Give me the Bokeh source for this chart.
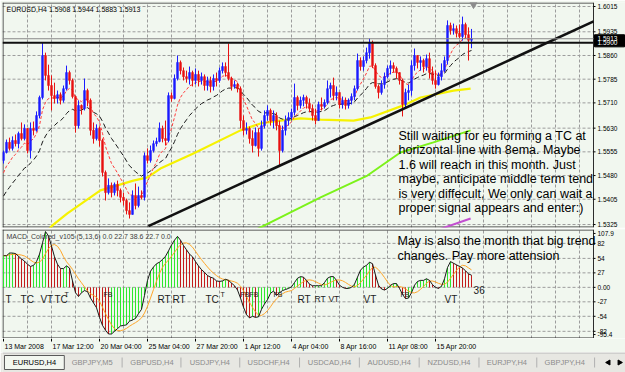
from math import pi
from bokeh.plotting import figure
from bokeh.layouts import column
from bokeh.models import Range1d
from bokeh.core.properties import value
from bokeh.embed import file_html
from bokeh.resources import INLINE

# ---------------- data ----------------
symbol = "EURUSD,H4"
first_open = 1.5528
close = [
    1.5553, 1.5585, 1.5566, 1.5591, 1.5581, 1.5613, 1.5597, 1.5629, 1.5559, 1.5629,
    1.5623, 1.5670, 1.5727, 1.5860, 1.5797, 1.5765, 1.5733, 1.5724, 1.5736, 1.5718,
    1.5755, 1.5806, 1.5781, 1.5730, 1.5638, 1.5702, 1.5692, 1.5749, 1.5718, 1.5623,
    1.5597, 1.5629, 1.5591, 1.5490, 1.5426, 1.5449, 1.5426, 1.5452, 1.5433, 1.5411,
    1.5401, 1.5369, 1.5357, 1.5417, 1.5385, 1.5417, 1.5411, 1.5543, 1.5528, 1.5559,
    1.5581, 1.5588, 1.5629, 1.5597, 1.5591, 1.5733, 1.5724, 1.5787, 1.5838, 1.5812,
    1.5793, 1.5787, 1.5806, 1.5781, 1.5800, 1.5781, 1.5793, 1.5765, 1.5781, 1.5762,
    1.5787, 1.5781, 1.5812, 1.5825, 1.5806, 1.5787, 1.5762, 1.5768, 1.5755, 1.5654,
    1.5623, 1.5629, 1.5597, 1.5575, 1.5616, 1.5566, 1.5638, 1.5670, 1.5686, 1.5654,
    1.5670, 1.5638, 1.5559, 1.5623, 1.5654, 1.5664, 1.5680, 1.5727, 1.5702, 1.5718,
    1.5727, 1.5708, 1.5692, 1.5670, 1.5654, 1.5705, 1.5699, 1.5711, 1.5755, 1.5765,
    1.5733, 1.5743, 1.5705, 1.5718, 1.5702, 1.5718, 1.5730, 1.5755, 1.5844, 1.5825,
    1.5844, 1.5869, 1.5901, 1.5828, 1.5762, 1.5743, 1.5768, 1.5793, 1.5819, 1.5828,
    1.5819, 1.5806, 1.5781, 1.5705, 1.5743, 1.5749, 1.5828, 1.5860, 1.5838, 1.5844,
    1.5825, 1.5850, 1.5806, 1.5781, 1.5768, 1.5793, 1.5812, 1.5844, 1.5955, 1.5939,
    1.5945, 1.5930, 1.5920, 1.5958, 1.5926, 1.5908, 1.5913]
high = [
    1.5559, 1.5594, 1.5600, 1.5604, 1.5610, 1.5619, 1.5648, 1.5642, 1.5619, 1.5648,
    1.5651, 1.5683, 1.5733, 1.5901, 1.5869, 1.5831, 1.5797, 1.5774, 1.5749, 1.5743,
    1.5765, 1.5828, 1.5812, 1.5787, 1.5733, 1.5718, 1.5705, 1.5787, 1.5755, 1.5724,
    1.5648, 1.5642, 1.5635, 1.5597, 1.5496, 1.5471, 1.5458, 1.5458, 1.5464, 1.5439,
    1.5426, 1.5407, 1.5395, 1.5433, 1.5455, 1.5445, 1.5433, 1.5553, 1.5566, 1.5575,
    1.5591, 1.5600, 1.5648, 1.5638, 1.5654, 1.5743, 1.5743, 1.5800, 1.5860, 1.5844,
    1.5822, 1.5812, 1.5825, 1.5812, 1.5819, 1.5812, 1.5806, 1.5800, 1.5793, 1.5793,
    1.5800, 1.5806, 1.5822, 1.5838, 1.5838, 1.5898, 1.5793, 1.5781, 1.5774, 1.5762,
    1.5670, 1.5648, 1.5635, 1.5623, 1.5632, 1.5629, 1.5654, 1.5686, 1.5702, 1.5692,
    1.5686, 1.5680, 1.5654, 1.5638, 1.5670, 1.5680, 1.5692, 1.5771, 1.5733, 1.5730,
    1.5736, 1.5733, 1.5724, 1.5705, 1.5692, 1.5714, 1.5727, 1.5721, 1.5781, 1.5774,
    1.5790, 1.5762, 1.5743, 1.5730, 1.5727, 1.5724, 1.5740, 1.5765, 1.5866, 1.5854,
    1.5857, 1.5885, 1.5914, 1.5907, 1.5835, 1.5768, 1.5781, 1.5806, 1.5828, 1.5844,
    1.5838, 1.5825, 1.5806, 1.5787, 1.5755, 1.5768, 1.5844, 1.5882, 1.5860, 1.5857,
    1.5850, 1.5863, 1.5869, 1.5825, 1.5812, 1.5806, 1.5835, 1.5857, 1.5971, 1.5964,
    1.5961, 1.5955, 1.5958, 1.5983, 1.5964, 1.5949, 1.5944]
low = [
    1.5518, 1.5550, 1.5559, 1.5559, 1.5572, 1.5566, 1.5591, 1.5591, 1.5550, 1.5534,
    1.5607, 1.5619, 1.5661, 1.5721, 1.5781, 1.5749, 1.5686, 1.5708, 1.5708, 1.5705,
    1.5711, 1.5749, 1.5768, 1.5724, 1.5616, 1.5629, 1.5673, 1.5686, 1.5699, 1.5607,
    1.5581, 1.5591, 1.5572, 1.5477, 1.5401, 1.5420, 1.5411, 1.5417, 1.5414, 1.5395,
    1.5385, 1.5357, 1.5344, 1.5357, 1.5373, 1.5379, 1.5404, 1.5401, 1.5518, 1.5521,
    1.5553, 1.5572, 1.5585, 1.5585, 1.5575, 1.5585, 1.5714, 1.5721, 1.5781, 1.5800,
    1.5781, 1.5774, 1.5768, 1.5762, 1.5768, 1.5762, 1.5768, 1.5749, 1.5749, 1.5743,
    1.5749, 1.5762, 1.5774, 1.5803, 1.5793, 1.5781, 1.5749, 1.5755, 1.5743, 1.5629,
    1.5607, 1.5610, 1.5581, 1.5553, 1.5572, 1.5540, 1.5559, 1.5629, 1.5654, 1.5638,
    1.5629, 1.5623, 1.5512, 1.5553, 1.5607, 1.5638, 1.5654, 1.5670, 1.5686, 1.5692,
    1.5699, 1.5692, 1.5680, 1.5654, 1.5642, 1.5654, 1.5686, 1.5692, 1.5705, 1.5727,
    1.5718, 1.5718, 1.5692, 1.5692, 1.5689, 1.5692, 1.5705, 1.5718, 1.5749, 1.5812,
    1.5812, 1.5835, 1.5850, 1.5820, 1.5755, 1.5724, 1.5736, 1.5755, 1.5787, 1.5800,
    1.5806, 1.5787, 1.5768, 1.5667, 1.5692, 1.5718, 1.5733, 1.5812, 1.5819, 1.5812,
    1.5806, 1.5812, 1.5787, 1.5768, 1.5755, 1.5765, 1.5781, 1.5806, 1.5831, 1.5926,
    1.5926, 1.5917, 1.5914, 1.5907, 1.5914, 1.5844, 1.5883]

ema_fast_period, ema_fast_seed = 8, 1.5470
ema_slow_period, ema_slow_seed = 21, 1.5401

macd = [
    59, 59, 64, 64, 63, 58, 53, 49, 43, 39,
    41, 48, 62, 83, 104, 96, 77, 57, 43, 35,
    35, 40, 36, 12, -10, -17, -10, -6, -8, -20,
    -29, -38, -56, -71, -80, -87, -87, -82, -77, -72,
    -71, -70, -63, -61, -58, -49, -41, -15, 13, 30,
    38, 44, 47, 52, 58, 68, 79, 88, 95, 88,
    78, 70, 62, 57, 48, 40, 33, 28, 22, 19,
    17, 12, 11, 12, 15, 13, 8, 3, -5, -20,
    -37, -51, -57, -54, -56, -55, -41, -31, -23, -11,
    -7, -15, -10, -6, -4, -2, 1, 9, 17, 20,
    19, 13, 6, 3, 3, 3, 3, 9, 17, 20,
    20, 13, 4, 0, -2, -2, 0, 6, 19, 32,
    38, 41, 47, 44, 23, 4, -3, -5, -2, 4,
    7, 7, -2, -13, -21, -20, -10, 4, 11, 13,
    13, 16, 13, 5, 0, -2, 2, 16, 37, 48,
    45, 42, 39, 36, 31, 25, 22.7]
signal_period = 6
macd_title = "MACD_Colored_v105 (5,13,6) 0.0 22.7 38.6 22.7 0.0"

time_tick_bars = [0, 16, 32, 48, 64, 80, 96, 112, 128, 144]
time_tick_labels = ["13 Mar 2008", "17 Mar 12:00", "20 Mar 04:00", "25 Mar 04:00",
                    "27 Mar 20:00", "1 Apr 12:00", "4 Apr 04:00", "8 Apr 16:00",
                    "11 Apr 08:00", "15 Apr 20:00"]
price_ticks = [1.6015, 1.5935, 1.5860, 1.5785, 1.5710, 1.5630, 1.5555, 1.5480, 1.5405, 1.5325]
macd_ticks = [100.5, 82, 54, 27, 0, -27, -54, -82, -88]
macd_tick_labels = ["107.9", "82", "54", "27", "0.00", "-27", "-54", "-82", "-95.4"]
macd_grid = [82, 54, 27, 0, -27, -54, -82]

h_level = 1.5900
trend_bar = [48.3, 196.7]
trend_price = [1.5320, 1.5968]
yellow_bar = [15.0, 16.3, 21.3, 32.3, 43.3, 48.0, 52.3, 63.3, 79.0, 85.7, 92.3, 99.0,
              105.7, 116.7, 122.3, 133.3, 139.0, 150.0, 155.7]
yellow_price = [1.5309, 1.5322, 1.5360, 1.5433, 1.5464, 1.5474, 1.5502, 1.5550, 1.5623,
                1.5645, 1.5654, 1.5661, 1.5657, 1.5654, 1.5664, 1.5702, 1.5727, 1.5749, 1.5755]
green_bar = [82.3, 99.0, 105.7, 121.3, 132.3, 143.3, 155.7]
green_price = [1.5300, 1.5379, 1.5411, 1.5480, 1.5553, 1.5585, 1.5623]
magenta_bar = [142.3, 155.7]
magenta_price = [1.5300, 1.5344]

pattern_text = ["T", "TC", "VT", "TC", "T", "FB", "RT", "RT", "TC", "T", "FBFB", "FB",
                "RT", "RT", "VT", "VT", "FB", "VT"]
pattern_bar = [0.7, 5.7, 12.3, 17.0, 20.3, 33.3, 51.3, 56.3, 67.3, 72.3, 79.0, 90.0,
               98.0, 103.7, 108.3, 120.0, 132.3, 147.0]
pattern_kind = ["L", "L", "L", "L", "S", "S", "L", "L", "L", "S", "S", "S",
                "L", "M", "M", "L", "S", "L"]
bars_count_text = "36"

note_lines = ["Still waiting for eu forming a TC at",
              "horizontal line with 8ema. Maybe",
              "1.6 will reach in this month. Just",
              "maybe, anticipate middle term tend",
              "is very diffecult, We only can wait a",
              "proper signal appears and enter:)"]
note2_lines = ["May is also the month that big trend",
               "changes. Pay more attension"]

tabs = ["EURUSD,H4", "GBPJPY,M5", "GBPUSD,H4", "USDJPY,H4", "USDCHF,H4",
        "USDCAD,H4", "AUDUSD,H4", "NZDUSD,H4", "EURJPY,H4", "GBPJPY,H4"]

# ---------------- derived ----------------
n = len(close)
bars = list(range(n))
opens = [first_open] + close[:-1]
BULL, BEAR = "#1c1cff", "#e81212"
cc = [BULL if c >= o else BEAR for o, c in zip(opens, close)]
wick_hi = [max(h, o, c) for h, o, c in zip(high, opens, close)]
wick_lo = [min(l, o, c) for l, o, c in zip(low, opens, close)]
body_top = [max(o, c) for o, c in zip(opens, close)]
body_bot = [min(o, c) for o, c in zip(opens, close)]


def ema(vals, period, seed):
    a = 2.0 / (period + 1)
    e = seed
    out = []
    for v in vals:
        e += a * (v - e)
        out.append(e)
    return out


ema_fast = ema(close, ema_fast_period, ema_fast_seed)
ema_slow = ema(close, ema_slow_period, ema_slow_seed)
signal = []
for i in range(n):
    w = macd[max(0, i - signal_period + 1):i + 1]
    signal.append(sum(w) / len(w))
hist_col = ["#2ee82e" if (i == 0 or macd[i] >= macd[i - 1]) else "#c41c1c" for i in range(n)]

# ---------------- layout helpers ----------------
W = 625
FONT = "Liberation Sans"
BG = "#f1f7ef"
GRID = "#9c9c9c"
PXB = 3.0                      # pixels per bar
X_LO = -1.0 / 3                # left frame edge (px 2)
X_HI = X_LO + 591 / PXB        # price-axis line (px 593)
X_END = X_LO + 623 / PXB       # right window edge (px 625)
P_TOP, P_PER_PX = 1.60277, 0.0003165
P_BOT = P_TOP - 225 * P_PER_PX
M_TOP, M_BOT = 107.9, -95.4
M_PER_PX = (M_TOP - M_BOT) / 109.0


def bx(px):
    return X_LO + (px - 2) / PXB


def py(px):
    return P_TOP - (px - 2) * P_PER_PX


def my(px):
    return M_TOP - (px - 229) * M_PER_PX


x_range = Range1d(X_LO, X_END)
vgrid = list(range(8, 197, 8))


def base(height, y_range, top, bottom):
    p = figure(width=W, height=height, x_range=x_range, y_range=y_range,
               x_axis_location=None, y_axis_location=None,
               output_backend="svg", toolbar_location=None,
               min_border_left=2, min_border_right=0,
               min_border_top=top, min_border_bottom=bottom)
    p.background_fill_color = BG
    p.border_fill_color = BG
    p.outline_line_color = None
    p.grid.visible = False
    return p


def pane_frame(p, lo, hi, per_px, hgrid, ticks, labels):
    # dashed grid
    p.segment(x0=vgrid, y0=[lo] * len(vgrid), x1=vgrid, y1=[hi] * len(vgrid),
              line_color=GRID, line_dash="3 2", line_width=1)
    p.segment(x0=[X_LO] * len(hgrid), y0=hgrid, x1=[X_HI] * len(hgrid), y1=hgrid,
              line_color=GRID, line_dash="3 2", line_width=1)
    # pane border (left, top, bottom) and axis line (right)
    dx = 0.5 / PXB
    dy = 0.5 * per_px
    p.segment(x0=[X_LO + dx, X_LO, X_LO, X_HI], y0=[lo, hi - dy, lo + dy, lo],
              x1=[X_LO + dx, X_HI, X_HI, X_HI], y1=[hi, hi - dy, lo + dy, hi],
              line_color="#2c2c2c", line_width=1)
    # axis ticks and labels
    p.segment(x0=[X_HI] * len(ticks), y0=ticks, x1=[X_HI + 2 / PXB] * len(ticks), y1=ticks,
              line_color="#000000", line_width=1)
    p.text(x=[X_HI + 4 / PXB] * len(ticks), y=ticks, text=labels, text_font=value(FONT),
           text_font_size=value("6.5px"), text_color="#000000",
           text_baseline="middle", text_align="left")


# ---------------- main pane ----------------
p1 = base(228, Range1d(P_BOT, P_TOP), 2, 1)
pane_frame(p1, P_BOT, P_TOP, P_PER_PX, price_ticks, price_ticks,
           [f"{t:.4f}" for t in price_ticks])

p1.line(magenta_bar, magenta_price, line_color="#c24fd0", line_width=2)
p1.line(green_bar, green_price, line_color="#7cf21a", line_width=2)
p1.line(yellow_bar, yellow_price, line_color="#f6f200", line_width=2.2)
p1.line(bars, ema_slow, line_color="#1a1a1a", line_width=1, line_dash="5 3")
p1.line(bars, ema_fast, line_color="#ff3b3b", line_width=1, line_dash="3 2")
p1.segment(x0=bars, y0=wick_lo, x1=bars, y1=wick_hi, line_color=cc, line_width=1)
p1.vbar(x=bars, width=0.55, top=body_top, bottom=body_bot, fill_color=cc, line_color=cc, line_width=0.7)
p1.line(trend_bar, trend_price, line_color="#111111", line_width=2.6)
p1.segment(x0=[X_LO, X_LO], y0=[close[-1], h_level], x1=[X_HI, X_HI], y1=[close[-1], h_level],
           line_color=["#8a8a8a", "#101010"], line_width=[1, 2])
p1.scatter(x=[bx(473)], y=[py(4)], marker="inverted_triangle", size=7,
           fill_color="#8c8c8c", line_color="#8c8c8c")

# price boxes on the axis: bid and horizontal line level
box_levels = [close[-1], h_level]
p1.quad(left=[X_HI + 1 / PXB] * 2, right=[X_END - 1 / PXB] * 2,
        bottom=[v - 4 * P_PER_PX for v in box_levels], top=[v + 4 * P_PER_PX for v in box_levels],
        fill_color="#000000", line_color="#000000")
p1.text(x=[X_HI + 4 / PXB] * 2, y=box_levels, text=[f"{v:.4f}" for v in box_levels],
        text_font=value(FONT), text_font_size=value("6.5px"), text_color="#ffffff",
        text_baseline="middle", text_align="left")

title_txt = f"{symbol}  {opens[-1]:.4f} {high[-1]:.4f} {low[-1]:.4f} {close[-1]:.4f}"
p1.text(x=[bx(6)], y=[py(9)], text=[title_txt], text_font=value(FONT),
        text_font_size=value("7px"), text_color="#000000",
        text_baseline="middle", text_align="left")
p1.text(x=[bx(398)] * len(note_lines), y=[py(135 + 14.5 * k) for k in range(len(note_lines))],
        text=note_lines, text_font=value(FONT), text_font_size=value("12.5px"),
        text_color="#000000", text_baseline="middle", text_align="left")

# ---------------- MACD pane ----------------
p2 = base(110, Range1d(M_BOT, M_TOP), 1, 0)
pane_frame(p2, M_BOT, M_TOP, M_PER_PX, macd_grid, macd_ticks, macd_tick_labels)

p2.segment(x0=bars, y0=[0] * n, x1=bars, y1=macd, line_color=hist_col, line_width=1)
p2.line(bars, signal, line_color="#ffa62a", line_width=1)
p2.line(bars, macd, line_color="#1a1a1a", line_width=1)

p2.text(x=[bx(6)], y=[my(236)], text=[macd_title], text_font=value(FONT),
        text_font_size=value("7px"), text_color="#3c3c3c",
        text_baseline="middle", text_align="left")
size_of = {"L": "10px", "M": "8.5px", "S": "7px"}
top_of = {"L": my(293), "M": my(293), "S": my(290)}
for kind in ("L", "M", "S"):
    idx = [i for i, k in enumerate(pattern_kind) if k == kind]
    p2.text(x=[pattern_bar[i] for i in idx], y=[top_of[kind]] * len(idx),
            text=[pattern_text[i] for i in idx], text_font=value(FONT),
            text_font_size=value(size_of[kind]), text_color="#1e1e1e",
            text_baseline="top", text_align="left")
p2.text(x=[n - 1 + 0.7], y=[my(289)], text=[bars_count_text], text_font=value(FONT),
        text_font_size=value("10px"), text_color="#1e1e1e",
        text_baseline="middle", text_align="left")
p2.text(x=[bx(397)] * len(note2_lines), y=[my(240 + 15 * k) for k in range(len(note2_lines))],
        text=note2_lines, text_font=value(FONT), text_font_size=value("12.5px"),
        text_color="#000000", text_baseline="middle", text_align="left")

# ---------------- time axis strip ----------------
pt = base(14, Range1d(0, 14), 0, 0)
pt.segment(x0=time_tick_bars, y0=[14] * len(time_tick_bars), x1=time_tick_bars,
           y1=[11] * len(time_tick_bars), line_color="#000000", line_width=1)
pt.text(x=time_tick_bars, y=[6] * len(time_tick_bars), text=time_tick_labels, x_offset=1,
        text_font=value(FONT), text_font_size=value("7px"), text_color="#000000",
        text_baseline="middle", text_align="left")

# ---------------- tab bar ----------------
TAB_BG = "#e7e7e2"
p3 = figure(width=W, height=20, x_range=Range1d(0, W), y_range=Range1d(0, 20),
            x_axis_location=None, y_axis_location=None, min_border=0,
            output_backend="svg", toolbar_location=None)
p3.background_fill_color = TAB_BG
p3.border_fill_color = TAB_BG
p3.outline_line_color = None
p3.grid.visible = False
tab_cx = [32, 90, 150, 208, 267, 328, 388, 448, 506, 564]
tab_sep = [120, 179, 238, 298, 358, 418, 478, 536, 594]
p3.segment(x0=[0], y0=[19.5], x1=[W], y1=[19.5], line_color="#b8b8b8", line_width=1)
p3.quad(left=[2], right=[62], bottom=[3], top=[17], fill_color="#f3f7f0", line_color="#5a5a5a", line_width=1)
p3.segment(x0=tab_sep, y0=[5] * len(tab_sep), x1=tab_sep, y1=[15] * len(tab_sep),
           line_color="#b0b0b0", line_width=1)
p3.text(x=tab_cx, y=[10] * len(tabs), text=tabs, text_font=value(FONT),
        text_font_size=value("7.5px"),
        text_color=["#000000"] + ["#8c8c8c"] * (len(tabs) - 1),
        text_baseline="middle", text_align="center")
p3.scatter(x=[608, 619], y=[10, 10], marker="triangle", size=5, angle=[pi / 2, -pi / 2],
           fill_color="#000000", line_color="#000000")

layout = column(p1, p2, pt, p3, spacing=0)
open("out.html", "w").write(file_html(layout, INLINE))
